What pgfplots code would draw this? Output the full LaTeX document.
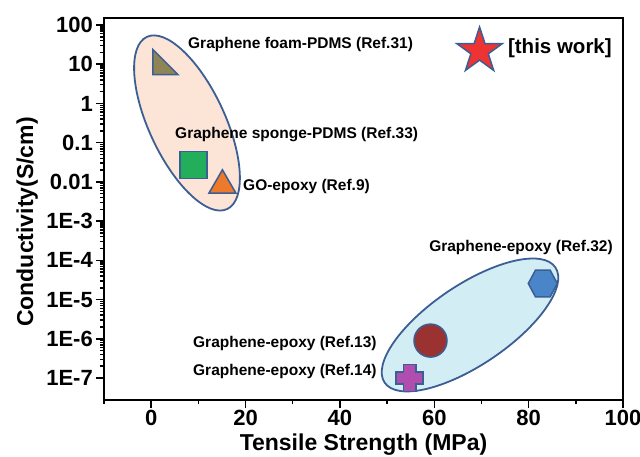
\documentclass[border=0pt]{standalone}
\usepackage{fontspec}
\setmainfont{Liberation Sans}
\usepackage{pgfplots}
\pgfplotsset{compat=1.18}
\definecolor{edgeblue}{HTML}{3B5E95}
\definecolor{peach}{HTML}{FCE4D6}
\definecolor{lcyan}{HTML}{D3EDF4}
\definecolor{olivemk}{HTML}{8E8455}
\definecolor{greenmk}{HTML}{23AE5C}
\definecolor{orangemk}{HTML}{EC7A2A}
\definecolor{hexblue}{HTML}{4A85C9}
\definecolor{darkred}{HTML}{9A3232}
\definecolor{crossmag}{HTML}{B24DB0}
\definecolor{starred}{HTML}{EE3333}
\pgfdeclareplotmark{rtri*}{%
 \pgfpathmoveto{\pgfqpoint{-\pgfplotmarksize}{\pgfplotmarksize}}%
 \pgfpathlineto{\pgfqpoint{-\pgfplotmarksize}{-\pgfplotmarksize}}%
 \pgfpathlineto{\pgfqpoint{\pgfplotmarksize}{-\pgfplotmarksize}}%
 \pgfpathclose\pgfusepathqfillstroke}
\pgfdeclareplotmark{hex*}{%
 \pgfpathmoveto{\pgfqpoint{\pgfplotmarksize}{0pt}}%
 \pgfpathlineto{\pgfqpoint{0.5\pgfplotmarksize}{0.93\pgfplotmarksize}}%
 \pgfpathlineto{\pgfqpoint{-0.5\pgfplotmarksize}{0.93\pgfplotmarksize}}%
 \pgfpathlineto{\pgfqpoint{-\pgfplotmarksize}{0pt}}%
 \pgfpathlineto{\pgfqpoint{-0.5\pgfplotmarksize}{-0.93\pgfplotmarksize}}%
 \pgfpathlineto{\pgfqpoint{0.5\pgfplotmarksize}{-0.93\pgfplotmarksize}}%
 \pgfpathclose\pgfusepathqfillstroke}
\pgfdeclareplotmark{fcross*}{%
 \pgfpathmoveto{\pgfqpoint{0.45\pgfplotmarksize}{\pgfplotmarksize}}%
 \pgfpathlineto{\pgfqpoint{-0.45\pgfplotmarksize}{\pgfplotmarksize}}%
 \pgfpathlineto{\pgfqpoint{-0.45\pgfplotmarksize}{0.45\pgfplotmarksize}}%
 \pgfpathlineto{\pgfqpoint{-\pgfplotmarksize}{0.45\pgfplotmarksize}}%
 \pgfpathlineto{\pgfqpoint{-\pgfplotmarksize}{-0.45\pgfplotmarksize}}%
 \pgfpathlineto{\pgfqpoint{-0.45\pgfplotmarksize}{-0.45\pgfplotmarksize}}%
 \pgfpathlineto{\pgfqpoint{-0.45\pgfplotmarksize}{-\pgfplotmarksize}}%
 \pgfpathlineto{\pgfqpoint{0.45\pgfplotmarksize}{-\pgfplotmarksize}}%
 \pgfpathlineto{\pgfqpoint{0.45\pgfplotmarksize}{-0.45\pgfplotmarksize}}%
 \pgfpathlineto{\pgfqpoint{\pgfplotmarksize}{-0.45\pgfplotmarksize}}%
 \pgfpathlineto{\pgfqpoint{\pgfplotmarksize}{0.45\pgfplotmarksize}}%
 \pgfpathlineto{\pgfqpoint{0.45\pgfplotmarksize}{0.45\pgfplotmarksize}}%
 \pgfpathclose\pgfusepathqfillstroke}
\pgfdeclareplotmark{fstar*}{%
 \pgfpathmoveto{\pgfqpoint{0pt}{\pgfplotmarksize}}%
 \pgfpathlineto{\pgfqpoint{-0.2245\pgfplotmarksize}{0.309\pgfplotmarksize}}%
 \pgfpathlineto{\pgfqpoint{-0.951\pgfplotmarksize}{0.309\pgfplotmarksize}}%
 \pgfpathlineto{\pgfqpoint{-0.3633\pgfplotmarksize}{-0.118\pgfplotmarksize}}%
 \pgfpathlineto{\pgfqpoint{-0.588\pgfplotmarksize}{-0.809\pgfplotmarksize}}%
 \pgfpathlineto{\pgfqpoint{0pt}{-0.382\pgfplotmarksize}}%
 \pgfpathlineto{\pgfqpoint{0.588\pgfplotmarksize}{-0.809\pgfplotmarksize}}%
 \pgfpathlineto{\pgfqpoint{0.3633\pgfplotmarksize}{-0.118\pgfplotmarksize}}%
 \pgfpathlineto{\pgfqpoint{0.951\pgfplotmarksize}{0.309\pgfplotmarksize}}%
 \pgfpathlineto{\pgfqpoint{0.2245\pgfplotmarksize}{0.309\pgfplotmarksize}}%
 \pgfpathclose\pgfusepathqfillstroke}
\begin{document}
\begin{tikzpicture}
\path[use as bounding box] (-104pt,-57pt) rectangle (536pt,400pt);
\begin{axis}[
 at={(0pt,0pt)}, anchor=south west,
 scale only axis, width=519pt, height=382pt,
 xmin=-10, xmax=100, ymode=log, ymin=2.75e-8, ymax=151,
 axis line style={line width=2.2pt, black},
 tick align=outside, xtick pos=bottom, ytick pos=left,
 major tick length=8pt, minor tick length=4pt,
 tick style={line width=1.5pt, black},
 xtick={0,20,40,60,80,100}, minor xtick={-10,10,30,50,70,90},
 xticklabels={0,20,40,60,80,100},
 ytick={1e-7,1e-6,1e-5,1e-4,1e-3,1e-2,1e-1,1,10,100},
 yticklabels={1E-7,1E-6,1E-5,1E-4,1E-3,0.01,0.1,1,10,100},
 ticklabel style={font=\fontsize{22}{24}\selectfont\bfseries},
 xticklabel style={inner sep=1.5pt},
 yticklabel style={inner sep=3pt},
 xlabel={Tensile Strength (MPa)}, ylabel={Conductivity(S/cm)},
 label style={font=\fontsize{23}{25}\selectfont\bfseries},
 x label style={at={(axis description cs:0.5,-0.118)}, anchor=center},
 y label style={at={(axis description cs:-0.148,0.466)}, anchor=center},
 clip=false,
]
\draw[line width=1.8pt, draw=edgeblue, fill=peach, rotate around={-65:(axis cs:7.59,0.318)}] (axis cs:7.59,0.318) ellipse [x radius=95pt, y radius=38pt];
\draw[line width=1.8pt, draw=edgeblue, fill=lcyan, rotate around={34:(axis cs:67.57,2.25e-6)}] (axis cs:67.57,2.25e-6) ellipse [x radius=103pt, y radius=40pt];

\addplot[only marks, mark=rtri*, mark size=12.5pt, mark options={fill=olivemk, draw=edgeblue, line width=1.5pt}] coordinates {(3,11.4)};
\addplot[only marks, mark=square*, mark size=13.5pt, mark options={fill=greenmk, draw=edgeblue, line width=1.5pt}] coordinates {(9,0.027)};
\addplot[only marks, mark=triangle*, mark size=15.5pt, mark options={fill=orangemk, draw=edgeblue, line width=1.5pt}] coordinates {(15.1,0.0082)};
\addplot[only marks, mark=hex*, mark size=14.5pt, mark options={fill=hexblue, draw=edgeblue, line width=1.5pt}] coordinates {(83,2.57e-5)};
\addplot[only marks, mark=*, mark size=16.5pt, mark options={fill=darkred, draw=edgeblue, line width=1.5pt}] coordinates {(59.2,9e-7)};
\addplot[only marks, mark=fcross*, mark size=13.5pt, mark options={fill=crossmag, draw=edgeblue, line width=1.5pt}] coordinates {(54.8,1e-7)};
\addplot[only marks, mark=fstar*, mark size=24pt, mark options={fill=starred, draw=edgeblue, line width=1.5pt}] coordinates {(69.6,21.8)};

\begin{scope}[every node/.style={anchor=west, inner sep=0pt, font=\fontsize{15.5}{17}\selectfont\bfseries}]
\node at (axis cs:7.8,31) {Graphene foam-PDMS (Ref.31)};
\node at (axis cs:5.05,0.157) {Graphene sponge-PDMS (Ref.33)};
\node at (axis cs:19.46,0.00743) {GO-epoxy (Ref.9)};
\node at (axis cs:58.9,2.07e-4) {Graphene-epoxy (Ref.32)};
\node at (axis cs:8.86,7.4e-7) {Graphene-epoxy (Ref.13)};
\node at (axis cs:8.86,1.43e-7) {Graphene-epoxy (Ref.14)};
\node[font=\fontsize{20.5}{22}\selectfont\bfseries] at (axis cs:75.6,26) {[this work]};
\end{scope}
\end{axis}
\fill[black] (-1.3pt,380.7pt) rectangle (520.3pt,383.3pt);
\fill[black] (517.7pt,-1.3pt) rectangle (520.3pt,383.3pt);
\fill[black] (-1.3pt,-1.3pt) rectangle (1.3pt,383.3pt);
\fill[black] (-1.3pt,-1.3pt) rectangle (520.3pt,1.3pt);
\end{tikzpicture}
\end{document}
